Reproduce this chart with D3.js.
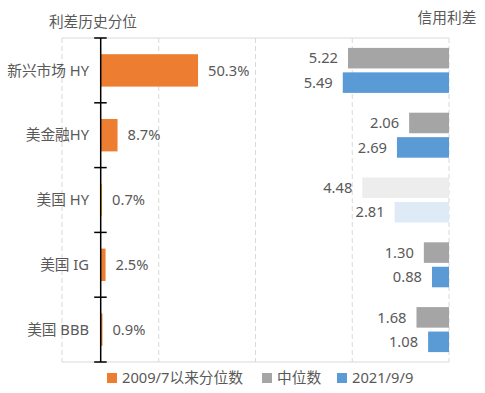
<!DOCTYPE html>
<html><head><meta charset="utf-8">
<script src="https://cdn.jsdelivr.net/npm/d3@7/dist/d3.min.js"></script>
<style>
body{margin:0;background:#fff;}
text{font-family:"Noto Sans","Noto Sans CJK SC",sans-serif;fill:#595959;}
</style></head>
<body>
<svg id="c" width="485" height="393"></svg>
<script>
const categories = ["新兴市场 HY","美金融HY","美国 HY","美国 IG","美国 BBB"];
const percentile = [0.503, 0.087, 0.007, 0.025, 0.009];
const median = [5.22, 2.06, 4.48, 1.30, 1.68];
const current = [5.49, 2.69, 2.81, 0.88, 1.08];
const seriesNames = ["2009/7以来分位数","中位数","2021/9/9"];

const svg = d3.select("#c");
const L = 62, R = 449, T = 38, B = 362;
const fs = 14.7;

const y = d3.scaleBand().domain(categories).range([T, B]).paddingInner(0.5).paddingOuter(0.25);
const yc = d => y(d) + y.bandwidth()/2;
const x1 = d3.scaleLinear().domain([-0.2, 1.8]).range([L, R]);
const x2 = d3.scaleLinear().domain([0, 20]).range([R, L]);
const sub = d3.scaleBand().domain(["m","c"]).range([-22.5, 22.5]).paddingInner(0.16);

// gridlines
svg.append("g").selectAll("line").data(x2.ticks(4)).join("line")
  .attr("x1", d => x2(d)).attr("x2", d => x2(d)).attr("y1", T).attr("y2", B)
  .attr("stroke", "#D9D9D9").attr("stroke-width", 1).attr("stroke-dasharray", "5,3");
svg.append("line").attr("x1", L).attr("x2", R).attr("y1", T).attr("y2", T).attr("stroke", "#D9D9D9");
svg.append("line").attr("x1", L).attr("x2", R).attr("y1", B).attr("y2", B).attr("stroke", "#D9D9D9");

// percentile bars
const pColor = (d, i) => i === 2 ? "#FFC000" : "#ED7D31";
svg.append("g").selectAll("rect").data(categories).join("rect")
  .attr("x", x1(0)).attr("y", d => y(d))
  .attr("width", (d, i) => x1(percentile[i]) - x1(0))
  .attr("height", y.bandwidth()).attr("fill", pColor);
svg.append("g").selectAll("text").data(categories).join("text")
  .attr("x", (d, i) => x1(percentile[i]) + 10).attr("y", d => yc(d))
  .attr("dy", "0.35em").attr("font-size", fs)
  .text((d, i) => d3.format(".1%")(percentile[i]));

// spread bars
const faded = i => i === 2;
const gM = svg.append("g");
categories.forEach((c, i) => {
  const vals = [["m", median[i], faded(i) ? "#EDEDED" : "#A5A5A5"], ["c", current[i], faded(i) ? "#DEEBF7" : "#5B9BD5"]];
  vals.forEach(([k, v, col]) => {
    const yy = yc(c) + sub(k);
    gM.append("rect").attr("x", x2(v)).attr("y", yy)
      .attr("width", x2(0) - x2(v)).attr("height", sub.bandwidth()).attr("fill", col);
    gM.append("text").attr("x", x2(v) - 10).attr("y", yy + sub.bandwidth()/2)
      .attr("dy", "0.35em").attr("text-anchor", "end").attr("font-size", fs)
      .text(d3.format(".2f")(v));
  });
});

// axis
const ax = x1(0);
svg.append("line").attr("x1", ax).attr("x2", ax).attr("y1", T).attr("y2", B)
  .attr("stroke", "#000").attr("stroke-width", 1.5);
const bounds = categories.map(c => y(c) - y.step()*y.paddingInner()/2).concat([B]);
bounds[0] = T;
svg.append("g").selectAll("line").data(bounds).join("line")
  .attr("x1", ax - 6.5).attr("x2", ax + 6).attr("y1", d => d).attr("y2", d => d)
  .attr("stroke", "#000").attr("stroke-width", 1.5);

// category labels
svg.append("g").selectAll("text").data(categories).join("text")
  .attr("x", 89).attr("y", d => yc(d)).attr("dy", "0.35em")
  .attr("text-anchor", "end").attr("font-size", fs).text(d => d);

// titles
svg.append("text").attr("x", 93).attr("y", 22).attr("dy", "0.35em")
  .attr("text-anchor", "middle").attr("font-size", fs).text("利差历史分位");
svg.append("text").attr("x", 447).attr("y", 18).attr("dy", "0.35em")
  .attr("text-anchor", "middle").attr("font-size", fs).text("信用利差");

// legend
const legX = [107, 262, 337];
const legC = ["#ED7D31", "#A5A5A5", "#5B9BD5"];
const lg = svg.append("g");
seriesNames.forEach((s, i) => {
  lg.append("rect").attr("x", legX[i]).attr("y", 373).attr("width", 10).attr("height", 10).attr("fill", legC[i]);
  lg.append("text").attr("x", legX[i] + 15).attr("y", 378).attr("dy", "0.35em").attr("font-size", fs).text(s);
});
</script>
</body></html>
